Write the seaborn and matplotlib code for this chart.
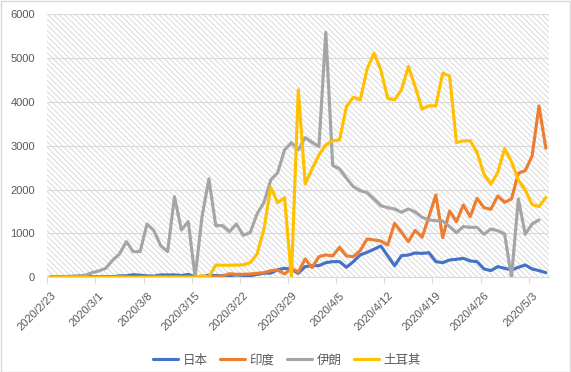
import matplotlib
matplotlib.use("Agg")
import matplotlib.pyplot as plt
import numpy as np
import pandas as pd
import seaborn as sns
from matplotlib.patches import Rectangle
from matplotlib.lines import Line2D
from matplotlib.transforms import ScaledTranslation

# ------------------------------------------------------------------
# Data: daily new cases, 2020/2/23 .. 2020/5/5
# ------------------------------------------------------------------
START_DATE = "2020-02-23"
N_DAYS = 73

japan = [12, 14, 18, 20, 22, 20, 15, 12, 15, 14,
         33, 33, 59, 47, 33, 26, 54, 52, 55, 41,
         64, 15, 15, 44, 39, 35, 39, 53, 43, 37,
         65, 93, 96, 170, 205, 182, 91, 243, 266, 266,
         334, 357, 357, 228, 356, 509, 570, 639, 714, 490,
         265, 493, 508, 555, 545, 560, 357, 334, 395, 410,
         433, 372, 357, 190, 152, 243, 205, 167, 228, 281,
         190, 152, 106]

india = [0, 0, 0, 0, 0, 0, 0, 0, 2, 1,
         22, 2, 1, 3, 5, 9, 13, 6, 11, 10,
         8, 10, 12, 15, 20, 30, 80, 68, 68, 75,
         91, 105, 150, 170, 75, 205, 114, 418, 220, 471,
         510, 487, 684, 487, 471, 608, 874, 852, 829, 738,
         1232, 1027, 813, 1070, 913, 1383, 1878, 904, 1513, 1269,
         1650, 1383, 1803, 1588, 1552, 1855, 1712, 1787, 2373, 2433,
         2768, 3909, 2944]

iran = [5, 10, 15, 20, 35, 45, 105, 145, 205, 390,
        532, 813, 585, 585, 1216, 1064, 722, 585, 1840, 1080,
        1270, 0, 1380, 2245, 1178, 1178, 1041, 1216, 958, 1018,
        1444, 1703, 2220, 2387, 2905, 3072, 2905, 3186, 3080, 2980,
        5590, 2550, 2475, 2260, 2068, 1976, 1931, 1787, 1634, 1588,
        1559, 1483, 1559, 1490, 1369, 1308, 1292, 1285, 1156, 1018,
        1156, 1140, 1140, 981, 1102, 1064, 988, 0, 1787, 981,
        1216, 1308, np.nan]

turkey = [0, 0, 0, 0, 0, 0, 0, 0, 0, 0,
          0, 0, 0, 0, 0, 0, 0, 0, 0, 0,
          0, 0, 40, 5, 280, 275, 275, 280, 285, 330,
          530, 1100, 2054, 1703, 1815, 0, 4274, 2129, 2470, 2790,
          3019, 3117, 3133, 3894, 4107, 4046, 4747, 5112, 4732, 4085,
          4046, 4275, 4808, 4350, 3838, 3912, 3912, 4655, 4594, 3076,
          3112, 3116, 2844, 2350, 2125, 2388, 2935, 2638, 2220, 1992,
          1660, 1611, 1822]

countries = ["日本", "印度", "伊朗", "土耳其"]
colors = ["#4472C4", "#ED7D31", "#A5A5A5", "#FFC000"]
tick_labels = ["2020/2/23", "2020/3/1", "2020/3/8", "2020/3/15", "2020/3/22",
               "2020/3/29", "2020/4/5", "2020/4/12", "2020/4/19", "2020/4/26",
               "2020/5/3"]

# ------------------------------------------------------------------
# Build long table for seaborn
# ------------------------------------------------------------------
dates = pd.date_range(START_DATE, periods=N_DAYS)
day_pos = np.arange(N_DAYS) + 0.5  # points sit between tick marks

frames = []
for name, values in zip(countries, [japan, india, iran, turkey]):
    frames.append(pd.DataFrame({"date": dates, "x": day_pos,
                                "cases": values, "country": name}))
df = pd.concat(frames, ignore_index=True)

# ------------------------------------------------------------------
# Plot
# ------------------------------------------------------------------
sns.set_theme(style="white")
plt.rcParams["font.family"] = ["Liberation Sans", "Noto Sans CJK SC", "DejaVu Sans"]
plt.rcParams["hatch.linewidth"] = 0.6
plt.rcParams["hatch.color"] = "#d4d4d4"

fig = plt.figure(figsize=(5.71, 3.72), dpi=100)
ax = fig.add_axes([0.0828, 0.2546, 0.8792, 0.707])

# hatched plot area
ax.add_patch(Rectangle((0, 0), 1, 1, transform=ax.transAxes,
                       facecolor="white", edgecolor="#d4d4d4",
                       hatch="\\\\\\\\\\\\", lw=0, zorder=0))

for y in range(1000, 7000, 1000):
    ax.axhline(y, color="#d9d9d9", lw=0.8, zorder=1)

sns.lineplot(data=df, x="x", y="cases", hue="country", hue_order=countries,
             palette=colors, linewidth=2.25, legend=False, ax=ax, zorder=3)

ax.set_xlim(0, N_DAYS)
ax.set_ylim(0, 6000)
ax.set_yticks(range(0, 7000, 1000))
ax.set_xticks(np.arange(0, 71, 7))
ax.set_xticklabels(tick_labels, rotation=45, ha="right",
                   rotation_mode="anchor", fontsize=8, color="#595959")
ax.tick_params(axis="y", labelsize=8, labelcolor="#595959", length=0, pad=9)
ax.tick_params(axis="x", length=4, color="#d9d9d9", width=0.8, pad=2,
               direction="out", bottom=True)
shift = ScaledTranslation(0.035, -0.05, fig.dpi_scale_trans)
for label in ax.get_xticklabels():
    label.set_transform(label.get_transform() + shift)
ax.set_xlabel("")
ax.set_ylabel("")

for side in ["top", "right", "left"]:
    ax.spines[side].set_visible(False)
ax.spines["bottom"].set_color("#d9d9d9")
ax.spines["bottom"].set_linewidth(0.8)

handles = [Line2D([], [], color=c, lw=2.25) for c in colors]
fig.legend(handles, countries, loc="center", bbox_to_anchor=(0.503, 0.03),
           ncol=4, frameon=False, fontsize=9, handlelength=2.0,
           handletextpad=0.35, columnspacing=1.0, labelcolor="#595959")

# chart border
fig.patches.append(Rectangle((0.001, 0.001), 0.997, 0.996, transform=fig.transFigure,
                             fill=False, edgecolor="#d9d9d9", lw=1))

fig.savefig("out.png", dpi=100)
